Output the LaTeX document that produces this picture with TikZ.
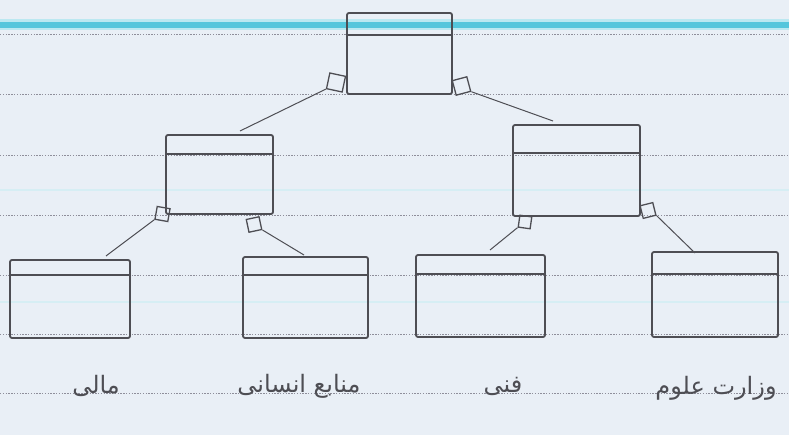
\documentclass[tikz,border=0pt]{standalone}
\usepackage{fontspec}
\newfontfamily\arabicfont[Script=Arabic]{DejaVu Sans}
\TeXXeTstate=1
\usetikzlibrary{calc}
\definecolor{paper}{HTML}{E9EFF6}
\definecolor{ink}{HTML}{4E4E54}
\definecolor{rule}{HTML}{8E8E9A}
\definecolor{blueline}{HTML}{55C6DC}
\definecolor{faint}{HTML}{D6EEF4}
\tikzset{
  box/.style={draw=ink, line width=1.8pt, rounded corners=2pt, inner sep=0pt},
  handle/.style={draw=ink, line width=1.3pt, minimum size=13pt, inner sep=0pt},
  link/.style={draw=ink, line width=1pt},
  strip/.style={draw=ink, line width=2pt},
  dotrule/.style={draw=rule, line width=0.6pt, dash pattern=on 1.4pt off 1.4pt},
  label/.style={text=ink, font=\arabicfont\fontsize{24}{28}\selectfont, inner sep=0pt}
}
\begin{document}
\begin{tikzpicture}[x=1pt,y=-1pt]
\useasboundingbox (0,0) rectangle (789,435);
\fill[paper] (0,0) rectangle (789,435);
% faint ruled lines
\foreach \yy in {190,302} \draw[faint, line width=2pt] (0,\yy) -- (789,\yy);
\draw[blueline!40, line width=11pt] (0,25) -- (789,25);
\draw[blueline, line width=6pt] (0,25) -- (789,25);
\foreach \yy in {34,94,155,215,275,334,393} \draw[dotrule] (0,\yy) -- (789,\yy);

% boxes
\node[box, minimum width=105pt, minimum height=81pt] (T)  at (399.5,53.5) {};
\node[box, minimum width=107pt, minimum height=79pt] (ML) at (219.5,174.5) {};
\node[box, minimum width=127pt, minimum height=91pt] (MR) at (576.5,170.5) {};
\node[box, minimum width=120pt, minimum height=78pt] (B1) at (70,299) {};
\node[box, minimum width=125pt, minimum height=81pt] (B2) at (305.5,297.5) {};
\node[box, minimum width=129pt, minimum height=82pt] (B3) at (480.5,296) {};
\node[box, minimum width=126pt, minimum height=85pt] (B4) at (715,294.5) {};

% header strips
\draw[strip] ([yshift=-23pt]T.north west)  -- ([yshift=-23pt]T.north east);
\draw[strip] ([yshift=-20pt]ML.north west) -- ([yshift=-20pt]ML.north east);
\draw[strip] ([yshift=-29pt]MR.north west) -- ([yshift=-29pt]MR.north east);
\draw[strip] ([yshift=-16pt]B1.north west) -- ([yshift=-16pt]B1.north east);
\draw[strip] ([yshift=-19pt]B2.north west) -- ([yshift=-19pt]B2.north east);
\draw[strip] ([yshift=-20pt]B3.north west) -- ([yshift=-20pt]B3.north east);
\draw[strip] ([yshift=-23pt]B4.north west) -- ([yshift=-23pt]B4.north east);

% handles
\node[handle, rotate=-12, minimum size=16pt] (tL) at (336,82.5) {};
\node[handle, rotate=15, minimum size=15pt] (tR) at (461.5,86) {};
\node[handle, rotate=-10] (mlL) at (162.5,214) {};
\node[handle, rotate=12] (mlR) at (254,224.5) {};
\node[handle, rotate=-8, minimum size=12pt] (mrL) at (525,222) {};
\node[handle, rotate=14] (mrR) at (648,210.5) {};

% connectors
\coordinate (cML) at (240,131);
\coordinate (cMR) at (553,121);
\coordinate (cB1) at (106,256);
\coordinate (cB2) at (304,255);
\coordinate (cB3) at (490,250);
\coordinate (cB4) at (695,253);
\draw[link] (tL.south west) -- (cML);
\draw[link] (tR.south east) -- (cMR);
\draw[link] (mlL.south west) -- (cB1);
\draw[link] (mlR.south east) -- (cB2);
\draw[link] (mrL.south west) -- (cB3);
\draw[link] (mrR.south east) -- (cB4);

% labels
\node[label] (l1) at (96,386)  {\beginR مالی\endR};
\node[label] (l2) at (299,386) {\beginR منابع انسانی\endR};
\node[label] (l3) at (503,386) {\beginR فنی\endR};
\node[label] (l4) at (716,388) {\beginR وزارت علوم\endR};
\end{tikzpicture}
\end{document}
